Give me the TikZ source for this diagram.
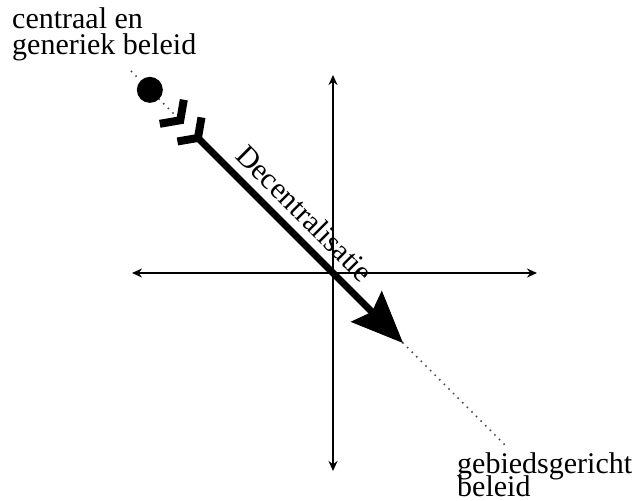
\documentclass[tikz,border=0pt]{standalone}
\usepackage{fontspec}
\setmainfont{Liberation Serif}
\usetikzlibrary{arrows.meta}
\begin{document}
\begin{tikzpicture}[x=1pt,y=1pt,
  axis/.style={line width=1.8pt, {Stealth[length=10pt,width=9pt]}-{Stealth[length=10pt,width=9pt]}},
  dots/.style={black!70, line width=2.2pt, line cap=round, dash pattern=on 0pt off 6.5pt},
  txt/.style={font=\fontsize{30}{24}\selectfont, inner sep=0pt, text=black},
  shaft/.style={line width=7pt, -{Stealth[length=52pt,width=44pt,inset=8pt,line width=1pt]}},
  fletch/.style={line width=8pt, miter limit=10},
  bullet/.style={circle, fill=black, minimum size=26pt, inner sep=0pt}]
\useasboundingbox (0,0) rectangle (639,-500);
% axes
\coordinate (xl) at (132,-273);
\coordinate (xr) at (537,-273);
\coordinate (yt) at (333,-75);
\coordinate (yb) at (333,-471);
\begin{scope}[shift={(333,-273)}, rotate=-45]
  \coordinate (ds) at (-285,0);
  \coordinate (de) at (248,0);
  \coordinate (v1) at (-216,0);
  \coordinate (f1a) at (-228,17);
  \coordinate (f1b) at (-228,-17);
  \coordinate (v2) at (-191,0);
  \coordinate (f2a) at (-203,17);
  \coordinate (f2b) at (-203,-17);
  \coordinate (tip) at (99,0);
  \node[bullet] (dot) at (-259,0) {};
  \node[txt, anchor=base, rotate=-45] (dec) at (-62,12) {Decentralisatie};
\end{scope}
\draw[dots] (ds) -- (dot);
\draw[dots] (dot) -- (v1);
\draw[dots] (tip) -- (de);
\draw[axis] (xl) -- (xr);
\draw[axis] (yt) -- (yb);
\draw[shaft] (v2) -- (tip);
\draw[fletch] (f1a) -- (v1) -- (f1b);
\draw[fletch] (f2a) -- (v2) -- (f2b);
\node[txt, anchor=base west] (central) at (12,-29)
  {\vtop{\lineskiplimit=-100pt\baselineskip=26pt\hbox{centraal en}\hbox{generiek beleid}}};
\node[txt, anchor=base west] (gebied) at (457,-473)
  {\vtop{\lineskiplimit=-100pt\baselineskip=23pt\hbox{gebiedsgericht}\hbox{beleid}}};
\end{tikzpicture}
\end{document}
